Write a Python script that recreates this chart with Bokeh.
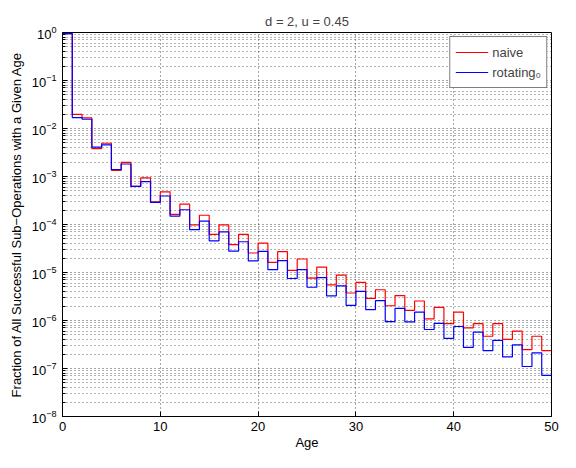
from bokeh.plotting import figure
from bokeh.models import FixedTicker, Legend, LegendItem
from bokeh.embed import file_html
from bokeh.resources import INLINE

ages = list(range(50))

naive = [9.5e-1, 1.96e-2, 1.66e-2, 3.8e-3, 4.93e-3, 1.34e-3, 1.96e-3, 6.2e-4, 9.4e-4, 2.97e-4,
         4.79e-4, 1.63e-4, 2.67e-4, 9.84e-5, 1.56e-4, 6.2e-5, 9.84e-5, 3.8e-5, 6.2e-5, 2.55e-5,
         4.1e-5, 1.63e-5, 2.71e-5, 1.11e-5, 1.91e-5, 7.6e-6, 1.30e-5, 5.5e-6, 8.85e-6, 3.74e-6,
         6.2e-6, 2.88e-6, 4.37e-6, 2.03e-6, 3.31e-6, 1.63e-6, 2.55e-6, 1.08e-6, 1.87e-6, 8.6e-7,
         1.49e-6, 7.0e-7, 8.6e-7, 4.7e-7, 8.6e-7, 4.05e-7, 6.0e-7, 2.47e-7, 4.7e-7, 2.36e-7]

rotating0 = [9.5e-1, 1.69e-2, 1.56e-2, 4.1e-3, 4.57e-3, 1.40e-3, 1.82e-3, 6.2e-4, 7.8e-4, 2.88e-4,
             3.92e-4, 1.49e-4, 2.03e-4, 7.8e-5, 1.18e-4, 4.57e-5, 7.0e-5, 2.8e-5, 4.37e-5, 1.74e-5,
             2.75e-5, 1.15e-5, 1.77e-5, 7.5e-6, 1.15e-5, 4.93e-6, 7.8e-6, 3.26e-6, 5.25e-6, 2.06e-6,
             4.05e-6, 1.69e-6, 2.59e-6, 9.5e-7, 1.79e-6, 9.4e-7, 1.49e-6, 6.5e-7, 8.7e-7, 4.24e-7,
             7.5e-7, 2.75e-7, 5.75e-7, 2.36e-7, 3.86e-7, 1.74e-7, 3.11e-7, 1.10e-7, 2.12e-7, 7.2e-8]

x_ticks = [0, 10, 20, 30, 40, 50]
y_decades = list(range(-8, 1))

FONT = "Liberation Sans"
FS = "13px"

p = figure(width=560, height=452, x_range=(0, 50), y_range=(1e-8, 1), y_axis_type="log",
           output_backend="svg", toolbar_location=None, title="d = 2, u = 0.45",
           min_border_left=62, min_border_right=9, min_border_top=32, min_border_bottom=34)

p.title.align = "center"
p.title.text_font = FONT
p.title.text_font_size = FS
p.title.text_font_style = "normal"
p.title.offset = 0
p.title.standoff = 8

p.outline_line_color = "black"
p.outline_line_width = 1
p.outline_line_alpha = 1
p.background_fill_color = "white"
p.border_fill_color = "white"

major_y = [10.0 ** k for k in y_decades]
minor_y = [m * 10.0 ** k for k in y_decades[:-1] for m in range(2, 10)]
yticker = FixedTicker(ticks=major_y, minor_ticks=minor_y)
xticker = FixedTicker(ticks=x_ticks)

p.xaxis.ticker = xticker
p.yaxis.ticker = yticker

for ax in (p.xaxis[0], p.yaxis[0]):
    ax.axis_line_color = "black"
    ax.major_tick_in = 5
    ax.major_tick_out = 0
    ax.minor_tick_in = 3
    ax.minor_tick_out = 0
    ax.major_tick_line_color = "black"
    ax.minor_tick_line_color = "black"
    ax.major_label_text_font = FONT
    ax.major_label_text_font_size = FS
    ax.major_label_text_color = "black"
    ax.axis_label_text_font = FONT
    ax.axis_label_text_font_size = FS
    ax.axis_label_text_font_style = "normal"
    ax.axis_label_text_color = "black"

p.xaxis.axis_label = "Age"
p.xaxis.major_label_standoff = 5
p.xaxis.axis_label_standoff = 1
p.yaxis.axis_label = "Fraction of All Successful Sub\u2212Operations with a Given Age"
p.yaxis.major_label_standoff = 6
p.yaxis.axis_label_standoff = 5

p.xgrid.ticker = xticker
p.ygrid.ticker = yticker
p.xgrid.grid_line_color = "black"
p.xgrid.grid_line_alpha = 0.7
p.xgrid.grid_line_dash = "1 3"
p.ygrid.grid_line_color = "black"
p.ygrid.grid_line_alpha = 0.7
p.ygrid.grid_line_dash = "1 3"
p.ygrid.minor_grid_line_color = "black"
p.ygrid.minor_grid_line_alpha = 0.6
p.ygrid.minor_grid_line_dash = "1 3"

xs = ages + [50]
r1 = p.step(xs, naive + [naive[-1]], mode="after", line_color="#ff0000", line_width=1.2)
r2 = p.step(xs, rotating0 + [rotating0[-1]], mode="after", line_color="#0000ff", line_width=1.2)

legend = Legend(items=[LegendItem(label="naive", renderers=[r1]),
                       LegendItem(label="rotating\u2080", renderers=[r2])],
                location="top_right")
legend.label_text_font = FONT
legend.label_text_font_size = FS
legend.border_line_color = "black"
legend.border_line_width = 1
legend.background_fill_alpha = 1
legend.glyph_width = 33
legend.glyph_height = 20
legend.label_height = 20
legend.label_standoff = 4
legend.padding = 5
legend.spacing = 0
legend.margin = 4
p.add_layout(legend, "center")

open("out.html", "w").write(file_html(p, INLINE))
